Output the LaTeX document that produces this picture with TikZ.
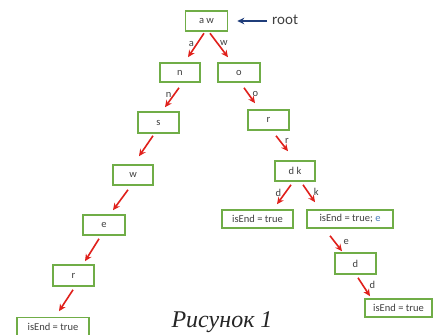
\documentclass[tikz,border=0pt]{standalone}
\usepackage{fontspec}
\newfontfamily\boxfont{Carlito}
\newfontfamily\capfont{Liberation Serif}
\usetikzlibrary{calc,arrows.meta}
\definecolor{boxgreen}{HTML}{70AD47}
\definecolor{edgered}{HTML}{E0201B}
\definecolor{rootblue}{HTML}{1F3D7A}
\definecolor{eblue}{HTML}{4A7EBB}
\definecolor{txtgray}{HTML}{404040}
\begin{document}
\begin{tikzpicture}[x=1pt,y=-1pt,
  trienode/.style={draw=boxgreen,line width=1.6pt,minimum height=20pt,inner sep=0pt,
    font=\boxfont\fontsize{10.5}{11}\selectfont,text=txtgray},
  edge/.style={draw=edgered,line width=1.6pt,-{Stealth[length=7pt,width=6.5pt]}},
  lbl/.style={font=\boxfont\fontsize{10.5}{11}\selectfont,text=txtgray,inner sep=0pt}]
\useasboundingbox[fill=white] (0,0) rectangle (435,334);

% nodes
\node[trienode,minimum width=42pt] (aw) at (206.5,21) {a w};
\node[trienode,minimum width=40pt,minimum height=19pt] (n) at (180,72.5) {n};
\node[trienode,minimum width=42pt,minimum height=19pt] (o) at (239,72.5) {o};
\node[trienode,minimum width=41pt,minimum height=21pt] (s) at (158.5,122.5) {s};
\node[trienode,minimum width=41pt] (rR) at (268.5,120) {r};
\node[trienode,minimum width=40pt] (w) at (133,175) {w};
\node[trienode,minimum width=40pt] (dk) at (295,171) {d k};
\node[trienode,minimum width=42pt] (e) at (104,225) {e};
\node[trienode,minimum width=41pt,minimum height=21pt] (rL) at (73.5,275.5) {r};
\node[trienode,minimum width=72pt,minimum height=19pt] (endL) at (53,327) {isEnd = true};
\node[trienode,minimum width=71pt,minimum height=18pt] (endM) at (257.5,219) {isEnd = true};
\node[trienode,minimum width=86pt,minimum height=18pt] (endE) at (350,219) {isEnd = true; {\color{eblue}e}};
\node[trienode,minimum width=41pt,minimum height=21pt] (d) at (355.5,263.5) {d};
\node[trienode,minimum width=67pt,minimum height=18pt] (endR) at (398.5,308) {isEnd = true};

% root pointer
\node[font=\boxfont\fontsize{15}{15}\selectfont,text=txtgray,anchor=west,inner sep=0pt] (roottxt) at (272,20) {root};
\draw[draw=rootblue,line width=1.6pt,-{Stealth[length=7pt,width=6.5pt]}]
  ($(roottxt.west)+(-5,1)$) -- ($(aw.east)+(9,0)$);

% edges
\draw[edge] ($(aw.south)+(-2.5,1.5)$) -- ($(n.north)+(8,-5)$) node[lbl,pos=0.45,left=2pt] {a};
\draw[edge] ($(aw.south)+(3.5,1.5)$) -- ($(o.north)+(-11,-5)$) node[lbl,pos=0.4,right=2pt] {w};
\draw[edge] ($(n.south)+(-1,5)$) -- ($(s.north)+(6.5,-4)$) node[lbl,pos=0.35,left=2pt] {n};
\draw[edge] ($(o.south)+(5,5)$) -- ($(rR.north)+(-13.5,-6)$) node[lbl,pos=0.4,right=3.5pt] {o};
\draw[edge] ($(s.south)+(-5.5,2)$) -- ($(w.north)+(6,-8)$);
\draw[edge] ($(rR.south)+(7.5,5)$) -- ($(dk.north)+(-7,-9)$) node[lbl,pos=0.35,right=4pt] {r};
\draw[edge] ($(w.south)+(-5,4)$) -- ($(e.north)+(9,-4)$);
\draw[edge] ($(dk.south)+(-4,3)$) -- ($(endM.north)+(19.5,-5)$) node[lbl,pos=0.43,left=3pt] {d};
\draw[edge] ($(dk.south)+(8,3)$) -- ($(endE.north)+(-35,-7)$) node[lbl,pos=0.42,right=5pt] {k};
\draw[edge] ($(endE.south)+(-20,7)$) -- ($(d.north)+(-13.5,-1)$) node[lbl,pos=0.4,right=8pt] {e};
\draw[edge] ($(e.south)+(-5,3)$) -- ($(rL.north)+(11.5,-3)$);
\draw[edge] ($(d.south)+(2.5,3)$) -- ($(endR.north)+(-28.5,-2)$) node[lbl,pos=0.4,right=6pt] {d};
\draw[edge] ($(rL.south)+(-0.5,3)$) -- ($(endL.north)+(6,-5.5)$);

% caption
\node[font=\capfont\itshape\fontsize{24}{24}\selectfont,anchor=base,inner sep=0pt,text=black!85] (cap) at (222,327) {Рисунок 1};
\end{tikzpicture}
\end{document}
